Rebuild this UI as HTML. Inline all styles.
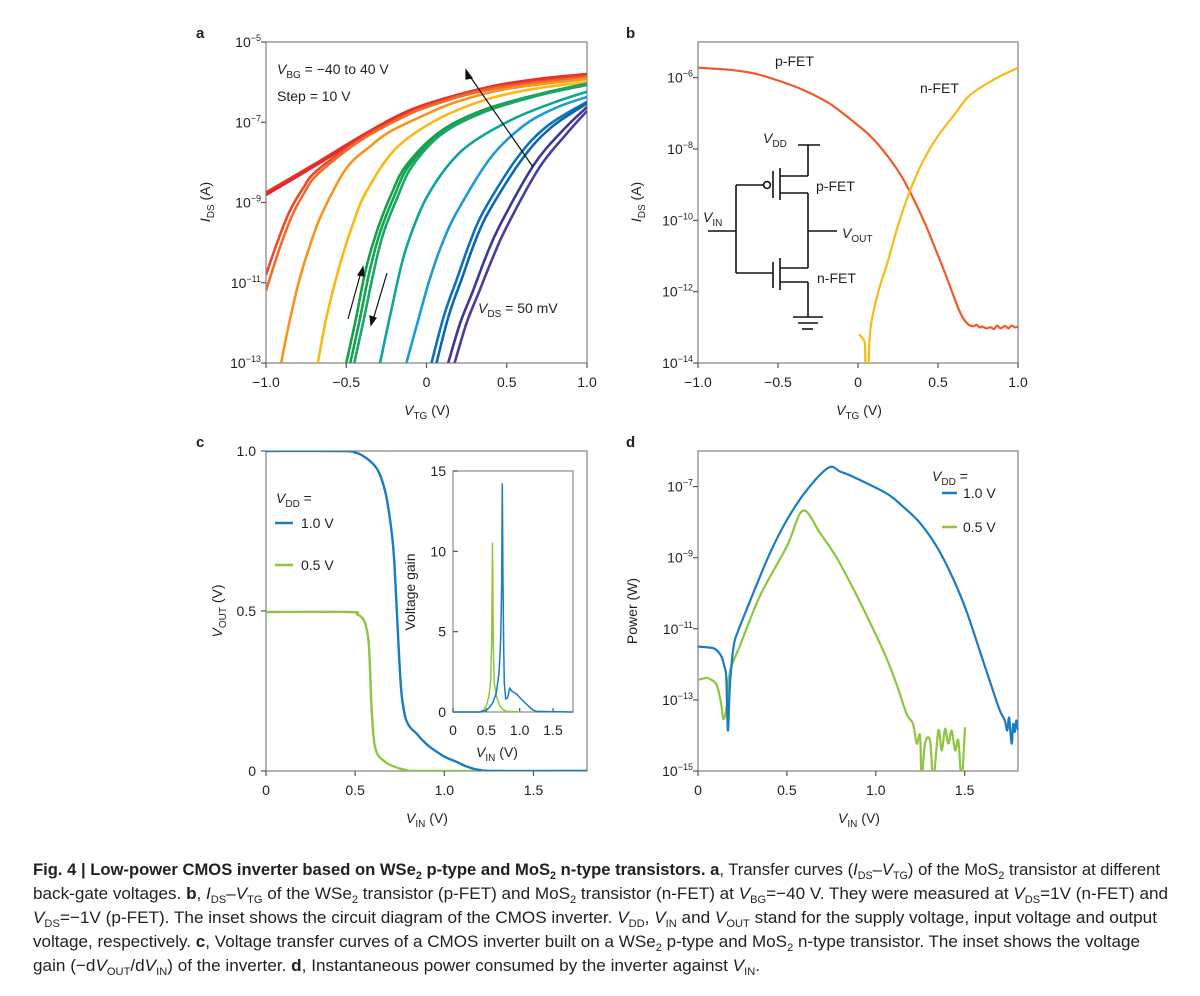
<!DOCTYPE html>
<html><head><meta charset="utf-8">
<style>
html,body{margin:0;padding:0;background:#fff;}
svg{display:block;font-family:"Liberation Sans",Arial,sans-serif;}
.tk{font-size:14px;fill:#231f20;}
.lbl{font-size:14px;fill:#231f20;}
.pl{font-size:15px;font-weight:bold;fill:#231f20;}
.cap{font-size:17px;fill:#231f20;}
</style></head>
<body>
<svg id="fig" width="1200" height="996" viewBox="0 0 1200 996" xmlns="http://www.w3.org/2000/svg">
<defs>
<clipPath id="clipA"><rect x="266" y="42" width="321" height="321"/></clipPath>
<clipPath id="clipB"><rect x="698" y="42" width="320" height="321"/></clipPath>
<clipPath id="clipC"><rect x="266" y="451" width="321" height="320"/></clipPath>
<clipPath id="clipD"><rect x="698" y="451" width="320" height="320"/></clipPath>
<clipPath id="clipI"><rect x="453" y="471" width="120" height="242"/></clipPath>
</defs>

<text class="pl" x="196" y="38">a</text>
<text class="pl" x="626" y="38">b</text>
<text class="pl" x="196" y="447">c</text>
<text class="pl" x="626" y="447">d</text>

<rect x="266" y="42" width="321" height="321" fill="none" stroke="#8a8a8a" stroke-width="1.3"/>
<rect x="698" y="42" width="320" height="321" fill="none" stroke="#8a8a8a" stroke-width="1.3"/>
<rect x="266" y="451" width="321" height="320" fill="none" stroke="#8a8a8a" stroke-width="1.3"/>
<rect x="698" y="451" width="320" height="320" fill="none" stroke="#8a8a8a" stroke-width="1.3"/>
<rect x="453" y="471" width="120" height="241" fill="#fff" stroke="#8a8a8a" stroke-width="1.2"/>

<g id="ticks"></g>
<g id="curvesA" clip-path="url(#clipA)"></g>
<g id="curvesB" clip-path="url(#clipB)"></g>
<g id="curvesC" clip-path="url(#clipC)"></g>
<g id="curvesD" clip-path="url(#clipD)"></g>
<g id="curvesI" clip-path="url(#clipI)"></g>

<text class="lbl" x="277" y="74"><tspan font-style="italic">V</tspan><tspan font-size="10" dy="4">BG</tspan><tspan dy="-4"> = −40 to 40 V</tspan></text>
<text class="lbl" x="277" y="101">Step = 10 V</text>
<text class="lbl" x="478" y="313"><tspan font-style="italic">V</tspan><tspan font-size="10" dy="4">DS</tspan><tspan dy="-4"> = 50 mV</tspan></text>
<g stroke="#111" stroke-width="1.2" fill="#111">
<line x1="533" y1="167" x2="469" y2="75"/><polygon points="466,70 472,78 466,79"/>
</g>
<g stroke="#111" stroke-width="1.2" fill="#111">
<line x1="348" y1="319" x2="361" y2="272"/><polygon points="363,267 364,276 358,275"/>
</g>
<g stroke="#111" stroke-width="1.2" fill="#111">
<line x1="387" y1="273" x2="373" y2="320"/><polygon points="371,325 370,316 376,318"/>
</g>
<text class="lbl" x="427" y="415" text-anchor="middle"><tspan font-style="italic">V</tspan><tspan font-size="10" dy="4">TG</tspan><tspan dy="-4"> (V)</tspan></text>
<text class="lbl" transform="translate(210,202) rotate(-90)" text-anchor="middle"><tspan font-style="italic">I</tspan><tspan font-size="10" dy="4">DS</tspan><tspan dy="-4"> (A)</tspan></text>

<text class="lbl" x="775" y="66">p-FET</text>
<text class="lbl" x="920" y="93">n-FET</text>
<text class="lbl" x="859" y="415" text-anchor="middle"><tspan font-style="italic">V</tspan><tspan font-size="10" dy="4">TG</tspan><tspan dy="-4"> (V)</tspan></text>
<text class="lbl" transform="translate(641,202) rotate(-90)" text-anchor="middle"><tspan font-style="italic">I</tspan><tspan font-size="10" dy="4">DS</tspan><tspan dy="-4"> (A)</tspan></text>
<g stroke="#111" stroke-width="1.6" fill="none">
<line x1="798" y1="145" x2="820" y2="145"/><line x1="808" y1="145" x2="808" y2="176"/>
<line x1="808" y1="176" x2="780" y2="176"/><line x1="780" y1="168" x2="780" y2="200"/>
<line x1="773" y1="171" x2="773" y2="198"/><circle cx="767" cy="185" r="3.4" fill="#fff"/>
<line x1="780" y1="193" x2="808" y2="193"/><line x1="808" y1="193" x2="808" y2="268"/>
<line x1="808" y1="231" x2="837" y2="231"/>
<line x1="808" y1="268" x2="780" y2="268"/><line x1="780" y1="258" x2="780" y2="290"/>
<line x1="773" y1="262" x2="773" y2="288"/>
<line x1="780" y1="282" x2="808" y2="282"/><line x1="808" y1="282" x2="808" y2="317"/>
<line x1="793" y1="317" x2="823" y2="317"/><line x1="798" y1="323" x2="818" y2="323"/><line x1="802" y1="329" x2="813" y2="329"/>
<line x1="763" y1="185" x2="736" y2="185"/><line x1="736" y1="185" x2="736" y2="273"/><line x1="736" y1="273" x2="773" y2="273"/>
<line x1="708" y1="231" x2="736" y2="231"/>
</g>
<text class="lbl" x="763" y="143"><tspan font-style="italic">V</tspan><tspan font-size="10" dy="4">DD</tspan></text>
<text class="lbl" x="703" y="222"><tspan font-style="italic">V</tspan><tspan font-size="10" dy="4">IN</tspan></text>
<text class="lbl" x="816" y="191">p-FET</text>
<text class="lbl" x="842" y="238"><tspan font-style="italic">V</tspan><tspan font-size="10" dy="4">OUT</tspan></text>
<text class="lbl" x="817" y="283">n-FET</text>

<text class="lbl" x="276" y="503"><tspan font-style="italic">V</tspan><tspan font-size="10" dy="4">DD</tspan><tspan dy="-4"> =</tspan></text>
<line x1="275" y1="523" x2="293" y2="523" stroke="#1a7cc1" stroke-width="2.5"/>
<text class="lbl" x="301" y="528">1.0 V</text>
<line x1="275" y1="565" x2="293" y2="565" stroke="#8dc63f" stroke-width="2.5"/>
<text class="lbl" x="301" y="570">0.5 V</text>
<text class="lbl" x="427" y="823" text-anchor="middle"><tspan font-style="italic">V</tspan><tspan font-size="10" dy="4">IN</tspan><tspan dy="-4"> (V)</tspan></text>
<text class="lbl" transform="translate(222,611) rotate(-90)" text-anchor="middle"><tspan font-style="italic">V</tspan><tspan font-size="10" dy="4">OUT</tspan><tspan dy="-4"> (V)</tspan></text>
<text class="lbl" x="497" y="757" text-anchor="middle"><tspan font-style="italic">V</tspan><tspan font-size="10" dy="4">IN</tspan><tspan dy="-4"> (V)</tspan></text>
<text class="lbl" transform="translate(415,592) rotate(-90)" text-anchor="middle">Voltage gain</text>

<text class="lbl" x="932" y="481"><tspan font-style="italic">V</tspan><tspan font-size="10" dy="4">DD</tspan><tspan dy="-4"> =</tspan></text>
<line x1="942" y1="493" x2="957" y2="493" stroke="#1a7cc1" stroke-width="2.5"/>
<text class="lbl" x="963" y="498">1.0 V</text>
<line x1="942" y1="527" x2="957" y2="527" stroke="#8dc63f" stroke-width="2.5"/>
<text class="lbl" x="963" y="532">0.5 V</text>
<text class="lbl" x="859" y="823" text-anchor="middle"><tspan font-style="italic">V</tspan><tspan font-size="10" dy="4">IN</tspan><tspan dy="-4"> (V)</tspan></text>
<text class="lbl" transform="translate(637,611) rotate(-90)" text-anchor="middle">Power (W)</text>

<g>
<text class="cap" x="33" y="875" textLength="1127" lengthAdjust="spacingAndGlyphs"><tspan font-weight="bold">Fig. 4 | Low-power CMOS inverter based on WSe<tspan font-size="11" dy="4">2</tspan><tspan dy="-4"> p-type and MoS</tspan><tspan font-size="11" dy="4">2</tspan><tspan dy="-4"> n-type transistors. a</tspan></tspan>, Transfer curves (<tspan font-style="italic">I</tspan><tspan font-size="11" dy="4">DS</tspan><tspan dy="-4">–</tspan><tspan font-style="italic">V</tspan><tspan font-size="11" dy="4">TG</tspan><tspan dy="-4">) of the MoS</tspan><tspan font-size="11" dy="4">2</tspan><tspan dy="-4"> transistor at different</tspan></text>
<text class="cap" x="33" y="899" textLength="1135" lengthAdjust="spacingAndGlyphs">back-gate voltages. <tspan font-weight="bold">b</tspan>, <tspan font-style="italic">I</tspan><tspan font-size="11" dy="4">DS</tspan><tspan dy="-4">–</tspan><tspan font-style="italic">V</tspan><tspan font-size="11" dy="4">TG</tspan><tspan dy="-4"> of the WSe</tspan><tspan font-size="11" dy="4">2</tspan><tspan dy="-4"> transistor (p-FET) and MoS</tspan><tspan font-size="11" dy="4">2</tspan><tspan dy="-4"> transistor (n-FET) at </tspan><tspan font-style="italic">V</tspan><tspan font-size="11" dy="4">BG</tspan><tspan dy="-4">=−40 V. They were measured at </tspan><tspan font-style="italic">V</tspan><tspan font-size="11" dy="4">DS</tspan><tspan dy="-4">=1V (n-FET) and</tspan></text>
<text class="cap" x="33" y="923" textLength="1124" lengthAdjust="spacingAndGlyphs"><tspan font-style="italic">V</tspan><tspan font-size="11" dy="4">DS</tspan><tspan dy="-4">=−1V (p-FET). The inset shows the circuit diagram of the CMOS inverter. </tspan><tspan font-style="italic">V</tspan><tspan font-size="11" dy="4">DD</tspan><tspan dy="-4">, </tspan><tspan font-style="italic">V</tspan><tspan font-size="11" dy="4">IN</tspan><tspan dy="-4"> and </tspan><tspan font-style="italic">V</tspan><tspan font-size="11" dy="4">OUT</tspan><tspan dy="-4"> stand for the supply voltage, input voltage and output</tspan></text>
<text class="cap" x="33" y="947" textLength="1107" lengthAdjust="spacingAndGlyphs">voltage, respectively. <tspan font-weight="bold">c</tspan>, Voltage transfer curves of a CMOS inverter built on a WSe<tspan font-size="11" dy="4">2</tspan><tspan dy="-4"> p-type and MoS</tspan><tspan font-size="11" dy="4">2</tspan><tspan dy="-4"> n-type transistor. The inset shows the voltage</tspan></text>
<text class="cap" x="33" y="971" textLength="727" lengthAdjust="spacingAndGlyphs">gain (−d<tspan font-style="italic">V</tspan><tspan font-size="11" dy="4">OUT</tspan><tspan dy="-4">/d</tspan><tspan font-style="italic">V</tspan><tspan font-size="11" dy="4">IN</tspan><tspan dy="-4">) of the inverter. </tspan><tspan font-weight="bold">d</tspan>, Instantaneous power consumed by the inverter against <tspan font-style="italic">V</tspan><tspan font-size="11" dy="4">IN</tspan><tspan dy="-4">.</tspan></text>
</g>
</svg>

<script>
const aColors = ["#e3242b","#e62f2a","#ee4a2a","#f26b2a","#f7941d","#fdb913","#12a14b","#17a24f","#1aa66a","#10a59b","#1e9bd7","#0b72b9","#0f66ad","#3b3996","#4b3d9c"];
const aCurve1 = [[-1,-8.81],[-0.7,-8.1],[-0.44,-7.45],[-0.2,-6.9],[0.02,-6.53],[0.4,-6.12],[0.7,-5.93],[1,-5.81]];
const aCurve2 = [[-1,-8.75],[-0.7,-8.05],[-0.44,-7.42],[-0.2,-6.88],[0.02,-6.52],[0.4,-6.11],[0.7,-5.92],[1,-5.8]];
const aCurve3 = [[-1,-10.8],[-0.93,-10.0],[-0.854,-9.23],[-0.77,-8.65],[-0.69,-8.23],[-0.44,-7.49],[-0.2,-6.95],[0.02,-6.57],[0.4,-6.15],[1,-5.84]];
const aCurve4 = [[-1,-11.2],[-0.92,-10.2],[-0.84,-9.35],[-0.76,-8.75],[-0.68,-8.3],[-0.44,-7.53],[-0.2,-6.98],[0.02,-6.6],[0.4,-6.18],[1,-5.88]];
const aCurve5 = [[-0.906,-13],[-0.85,-11.9],[-0.79,-10.9],[-0.72,-10.0],[-0.646,-9.23],[-0.5,-8.15],[-0.35,-7.6],[-0.23,-7.24],[0,-6.8],[0.19,-6.49],[0.5,-6.17],[1,-5.92]];
const aCurve6 = [[-0.677,-13],[-0.62,-11.8],[-0.54,-10.56],[-0.46,-9.55],[-0.375,-8.73],[-0.19,-7.65],[0.083,-6.9],[0.4,-6.4],[0.7,-6.15],[1,-6.0]];
const aCurve7 = [[-0.5,-13],[-0.44,-11.9],[-0.38,-10.7],[-0.31,-9.73],[-0.22,-8.8],[-0.125,-8.07],[0.083,-7.24],[0.35,-6.7],[0.7,-6.3],[1,-6.04]];
const aCurve8 = [[-0.475,-13],[-0.415,-11.9],[-0.355,-10.72],[-0.29,-9.75],[-0.2,-8.83],[-0.11,-8.09],[0.09,-7.26],[0.36,-6.71],[0.7,-6.31],[1,-6.05]];
const aCurve9 = [[-0.45,-13],[-0.39,-11.9],[-0.33,-10.75],[-0.27,-9.78],[-0.18,-8.86],[-0.09,-8.1],[0.1,-7.28],[0.37,-6.73],[0.7,-6.33],[1,-6.07]];
const aCurve10 = [[-0.29,-13],[-0.22,-11.7],[-0.146,-10.4],[-0.06,-9.4],[0.021,-8.73],[0.15,-8.0],[0.29,-7.49],[0.55,-6.9],[0.8,-6.5],[1,-6.24]];
const aCurve11 = [[-0.125,-13],[-0.05,-11.9],[0.021,-10.9],[0.1,-10.0],[0.19,-9.23],[0.396,-7.9],[0.6,-7.1],[0.8,-6.65],[1,-6.37]];
const aCurve12 = [[0.031,-13],[0.11,-11.8],[0.19,-10.9],[0.27,-10.0],[0.354,-9.23],[0.5625,-7.9],[0.75,-7.1],[1,-6.49]];
const aCurve13 = [[0.062,-13],[0.14,-11.8],[0.22,-10.9],[0.3,-10.0],[0.385,-9.25],[0.59,-7.95],[0.77,-7.15],[1,-6.53]];
const aCurve14 = [[0.135,-13],[0.21,-12.0],[0.29,-11.2],[0.37,-10.35],[0.458,-9.56],[0.667,-8.07],[0.85,-7.2],[1,-6.62]];
const aCurve15 = [[0.175,-13],[0.25,-12.0],[0.33,-11.2],[0.41,-10.4],[0.5,-9.6],[0.7,-8.15],[0.87,-7.3],[1,-6.72]];
const aCurves = [aCurve1,aCurve2,aCurve3,aCurve4,aCurve5,aCurve6,aCurve7,aCurve8,aCurve9,aCurve10,aCurve11,aCurve12,aCurve13,aCurve14,aCurve15];
const aXTicks = [-1,-0.5,0,0.5,1];
const aXTickLabels = ["−1.0","−0.5","0","0.5","1.0"];
const aYTicks = [-5,-7,-9,-11,-13];

const bPfet = [[-1,-5.72],[-0.8,-5.78],[-0.65,-5.88],[-0.5,-6.08],[-0.34,-6.35],[-0.18,-6.72],[-0.03,-7.23],[0.08,-7.65],[0.18,-8.17],[0.27,-8.75],[0.345,-9.38],[0.42,-10.1],[0.49,-10.87],[0.55,-11.55],[0.595,-12.09],[0.63,-12.5],[0.657,-12.74],[0.69,-12.92],[0.72,-12.97],[0.74,-12.93],[0.76,-13.0],[0.78,-12.98],[0.8,-13.03],[0.83,-13.0],[0.85,-13.05],[0.87,-12.95],[0.89,-13.03],[0.92,-12.96],[0.94,-13.03],[0.96,-12.95],[0.98,-13.0],[1,-12.98]];
const bNfet = [[0.006,-13.19],[0.035,-13.35],[0.044,-13.5],[0.048,-14.2],[0.065,-14.2],[0.07,-13.5],[0.085,-12.83],[0.13,-11.95],[0.18,-11.25],[0.25,-10.15],[0.324,-9.19],[0.4,-8.4],[0.49,-7.7],[0.6,-7.05],[0.7,-6.49],[0.85,-6.05],[1,-5.72]];
const bXTicks = [-1,-0.5,0,0.5,1];
const bXTickLabels = ["−1.0","−0.5","0","0.5","1.0"];
const bYTicks = [-6,-8,-10,-12,-14];

const cVdd1 = [[0,1],[0.43,1],[0.5,0.995],[0.54,0.986],[0.6,0.96],[0.636,0.93],[0.67,0.87],[0.692,0.8],[0.71,0.72],[0.72,0.648],[0.73,0.54],[0.739,0.44],[0.748,0.34],[0.758,0.253],[0.77,0.2],[0.786,0.159],[0.81,0.135],[0.842,0.118],[0.88,0.095],[0.917,0.076],[1.0,0.045],[1.066,0.029],[1.13,0.013],[1.197,0.003],[1.3,0],[1.8,0]];
const cVdd05 = [[0,0.497],[0.468,0.497],[0.51,0.49],[0.543,0.477],[0.562,0.45],[0.576,0.4],[0.583,0.32],[0.589,0.232],[0.597,0.15],[0.608,0.086],[0.625,0.052],[0.655,0.034],[0.7,0.018],[0.786,0.003],[0.9,0],[1.8,0]];
const cXTicks = [0,0.5,1,1.5];
const cXTickLabels = ["0","0.5","1.0","1.5"];
const cYTicks = [0,0.5,1];
const cYTickLabels = ["0","0.5","1.0"];
const iGain1 = [[0,0],[0.4,0],[0.5,0.1],[0.55,0.3],[0.6,0.6],[0.65,1.2],[0.69,2.4],[0.715,4.5],[0.73,8],[0.74,14.2],[0.75,8],[0.76,4],[0.77,1.8],[0.79,0.8],[0.82,0.9],[0.85,1.5],[0.88,1.3],[0.92,1.2],[0.96,1.1],[1.0,0.9],[1.05,0.7],[1.1,0.5],[1.15,0.3],[1.2,0.12],[1.25,0.04],[1.8,0]];
const iGain05 = [[0,0],[0.4,0],[0.46,0.15],[0.5,0.4],[0.54,1.0],[0.565,2.0],[0.58,4.5],[0.593,10.5],[0.605,4],[0.62,1.8],[0.65,1.0],[0.7,0.4],[0.75,0.15],[0.8,0.05],[1.0,0]];
const iXTicks = [0,0.5,1,1.5];
const iXTickLabels = ["0","0.5","1.0","1.5"];
const iYTicks = [0,5,10,15];

const dVdd1 = [[0,-11.5],[0.05,-11.52],[0.088,-11.55],[0.115,-11.65],[0.135,-11.82],[0.15,-12.1],[0.159,-12.38],[0.168,-13.86],[0.178,-12.75],[0.19,-11.92],[0.2,-11.5],[0.21,-11.27],[0.238,-10.9],[0.313,-9.97],[0.406,-8.86],[0.5,-7.94],[0.612,-7.1],[0.734,-6.47],[0.8,-6.58],[0.875,-6.73],[1.06,-7.19],[1.15,-7.55],[1.25,-8.03],[1.35,-8.75],[1.436,-9.6],[1.51,-10.5],[1.586,-11.64],[1.66,-12.75],[1.698,-13.3],[1.726,-13.58],[1.74,-13.86],[1.75,-13.5],[1.764,-14.23],[1.773,-13.68],[1.782,-13.9],[1.79,-13.58],[1.8,-13.86]];
const dVdd05 = [[0,-12.43],[0.03,-12.4],[0.05,-12.38],[0.08,-12.45],[0.107,-12.6],[0.13,-13.1],[0.144,-13.54],[0.163,-13.12],[0.18,-12.2],[0.238,-11.45],[0.35,-10.06],[0.5,-8.68],[0.59,-7.68],[0.687,-8.31],[0.78,-9.0],[0.874,-9.88],[0.97,-10.85],[1.06,-11.82],[1.12,-12.6],[1.174,-13.4],[1.21,-13.68],[1.23,-14.23],[1.249,-14.0],[1.258,-15.2],[1.277,-14.23],[1.305,-14.14],[1.324,-15.2],[1.352,-13.86],[1.371,-14.42],[1.39,-13.81],[1.408,-14.23],[1.427,-13.86],[1.446,-14.42],[1.464,-14.14],[1.483,-15.2],[1.502,-13.77]];
const dXTicks = [0,0.5,1,1.5];
const dXTickLabels = ["0","0.5","1.0","1.5"];
const dYTicks = [-7,-9,-11,-13,-15];

const NS = "http://www.w3.org/2000/svg";
function lin(d0,d1,r0,r1){ return v => r0 + (v-d0)/(d1-d0)*(r1-r0); }
const axA = lin(-1,1,266,587), ayA = lin(-5,-13,42,363);
const axB = lin(-1,1,698,1018), ayB = lin(-5,-14,42,363);
const axC = lin(0,1.8,266,587), ayC = lin(0,1,771,451);
const axI = lin(0,1.8,453,573), ayI = lin(0,15,712,471);
const axD = lin(0,1.8,698,1018), ayD = lin(-15,-6,771,451);

function smoothPath(pts){
  let d = "M"+pts[0][0].toFixed(1)+","+pts[0][1].toFixed(1);
  for(let i=0;i<pts.length-1;i++){
    const p0=pts[Math.max(i-1,0)], p1=pts[i], p2=pts[i+1], p3=pts[Math.min(i+2,pts.length-1)];
    const c1x=p1[0]+(p2[0]-p0[0])/6, c1y=p1[1]+(p2[1]-p0[1])/6;
    const c2x=p2[0]-(p3[0]-p1[0])/6, c2y=p2[1]-(p3[1]-p1[1])/6;
    d += " C"+c1x.toFixed(1)+","+c1y.toFixed(1)+" "+c2x.toFixed(1)+","+c2y.toFixed(1)+" "+p2[0].toFixed(1)+","+p2[1].toFixed(1);
  }
  return d;
}
function linePath(pts){ return pts.map((p,i)=>(i?"L":"M")+p[0].toFixed(1)+","+p[1].toFixed(1)).join(" "); }

function drawCurve(gid, data, sx, sy, color, w, smooth, name){
  const pts = data.map(p=>[sx(p[0]), sy(p[1])]);
  const el = document.createElementNS(NS,"path");
  el.setAttribute("d", smooth ? smoothPath(pts) : linePath(pts));
  el.setAttribute("fill","none");
  el.setAttribute("stroke",color);
  el.setAttribute("stroke-width",w);
  el.setAttribute("stroke-linejoin","round");
  
  
  document.getElementById(gid).appendChild(el);
}

aCurves.forEach((c,i)=>drawCurve("curvesA", c, axA, ayA, aColors[i], 2.6, true, "transfer-curve-"+(i+1)));
drawCurve("curvesB", bPfet, axB, ayB, "#f05a28", 2.2, true, "pfet-curve");
drawCurve("curvesB", bNfet, axB, ayB, "#fbb917", 2.2, true, "nfet-curve");
drawCurve("curvesC", cVdd05, axC, ayC, "#8dc63f", 2.4, true, "vout-curve-0-5v");
drawCurve("curvesC", cVdd1, axC, ayC, "#1a7cc1", 2.4, true, "vout-curve-1-0v");
drawCurve("curvesI", iGain05, axI, ayI, "#8dc63f", 1.5, false, "gain-curve-0-5v");
drawCurve("curvesI", iGain1, axI, ayI, "#1a7cc1", 1.5, false, "gain-curve-1-0v");
drawCurve("curvesD", dVdd05, axD, ayD, "#8dc63f", 2.2, true, "power-curve-0-5v");
drawCurve("curvesD", dVdd1, axD, ayD, "#1a7cc1", 2.2, true, "power-curve-1-0v");

const tg = document.getElementById("ticks");
function tickLine(x1,y1,x2,y2){
  const l = document.createElementNS(NS,"line");
  l.setAttribute("x1",x1); l.setAttribute("y1",y1); l.setAttribute("x2",x2); l.setAttribute("y2",y2);
  l.setAttribute("stroke","#555"); l.setAttribute("stroke-width","1.2");
  
  
  tg.appendChild(l);
}
function tickText(x,y,str,anchor,fs){
  const t = document.createElementNS(NS,"text");
  t.setAttribute("x",x); t.setAttribute("y",y);
  t.setAttribute("text-anchor",anchor);
  t.setAttribute("class","tk");
  if(fs) t.setAttribute("font-size",fs);
  t.textContent = str;
  
  
  tg.appendChild(t);
}
function logText(x,y,exp){
  const t = document.createElementNS(NS,"text");
  t.setAttribute("x",x); t.setAttribute("y",y);
  t.setAttribute("text-anchor","end");
  t.setAttribute("class","tk");
  const a = document.createElementNS(NS,"tspan"); a.textContent="10";
  const b = document.createElementNS(NS,"tspan"); b.textContent=(exp<0?"−":"")+Math.abs(exp);
  b.setAttribute("font-size","9"); b.setAttribute("dy","-6");
  t.appendChild(a); t.appendChild(b);
  
  
  tg.appendChild(t);
}
function xAxis(ticks, labels, sx, yb){
  ticks.forEach((v,i)=>{ const x=sx(v); tickLine(x,yb,x,yb+5); tickText(x,yb+24,labels[i],"middle"); });
}
xAxis(aXTicks,aXTickLabels,axA,363);
aYTicks.forEach(v=>{ const y=ayA(v); tickLine(261,y,266,y); logText(261,y+5,v); });
xAxis(bXTicks,bXTickLabels,axB,363);
bYTicks.forEach(v=>{ const y=ayB(v); tickLine(693,y,698,y); logText(693,y+5,v); });
xAxis(cXTicks,cXTickLabels,axC,771);
cYTicks.forEach((v,i)=>{ const y=ayC(v); tickLine(261,y,266,y); tickText(256,y+5,cYTickLabels[i],"end"); });
xAxis(dXTicks,dXTickLabels,axD,771);
dYTicks.forEach(v=>{ const y=ayD(v); tickLine(693,y,698,y); logText(693,y+5,v); });
iXTicks.forEach((v,i)=>{ const x=axI(v); tickLine(x,712,x,708); tickText(x,735,iXTickLabels[i],"middle"); });
iYTicks.forEach(v=>{ const y=ayI(v); tickLine(453,y,458,y); tickText(446,y+5,String(v),"end"); });
</script>
</body></html>
